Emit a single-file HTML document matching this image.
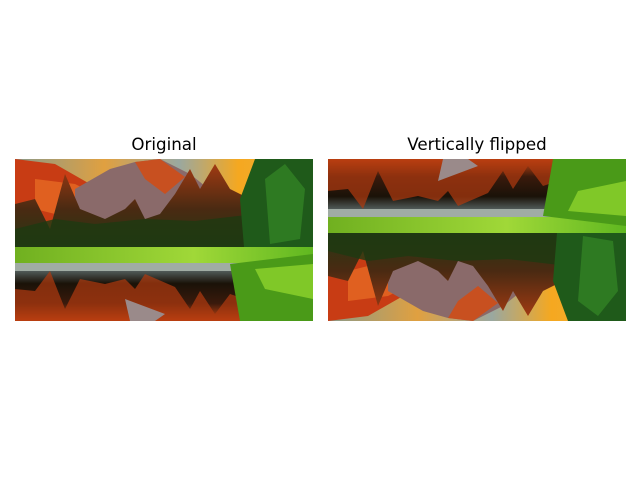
<!DOCTYPE html>
<html><head><meta charset="utf-8"><style>
html,body{margin:0;padding:0;background:#fff;}
body{width:640px;height:480px;position:relative;overflow:hidden;font-family:"DejaVu Sans","Liberation Sans",sans-serif;}
.title{position:absolute;top:134px;font-size:16.7px;color:#000;width:298px;text-align:center;}
svg{position:absolute;top:159px;}
</style></head><body>
<div class="title" style="left:15px">Original</div>
<div class="title" style="left:328px">Vertically flipped</div>
<svg width="640" height="162" style="left:0">
<defs>
<linearGradient id="sky" x1="0" x2="1" y1="0" y2="0">
<stop offset="0" stop-color="#8a9a8a"/><stop offset="0.3" stop-color="#e0a040"/><stop offset="0.55" stop-color="#9aa8a0"/><stop offset="0.75" stop-color="#f5a820"/><stop offset="1" stop-color="#f0b040"/></linearGradient>
<linearGradient id="refl" x1="0" x2="0" y1="0" y2="1">
<stop offset="0" stop-color="#505a58"/><stop offset="0.25" stop-color="#1a1208"/><stop offset="0.65" stop-color="#3a1a0c"/><stop offset="1" stop-color="#d04812"/></linearGradient>
<linearGradient id="trees" x1="0" x2="0" y1="0" y2="1">
<stop offset="0" stop-color="#a03a12"/><stop offset="0.5" stop-color="#4a2a12"/><stop offset="1" stop-color="#203a14"/></linearGradient>
<linearGradient id="grassg" x1="0" x2="1"><stop offset="0" stop-color="#70b020"/><stop offset="0.6" stop-color="#a0d838"/><stop offset="1" stop-color="#60b820"/></linearGradient>
<clipPath id="cp"><rect width="298" height="162"/></clipPath>
<g id="scene" clip-path="url(#cp)">
<rect width="298" height="162" fill="url(#sky)"/>
<polygon points="0,0 40,5 110,45 115,80 0,80" fill="#c83c14"/>
<polygon points="20,20 60,25 90,40 60,60 20,50" fill="#e06020"/>
<polygon points="60,30 95,10 120,3 145,0 175,15 200,35 200,80 60,80" fill="#8a6a6a"/>
<polygon points="120,3 145,0 170,18 150,35 130,20" fill="#c85020"/>
<polygon points="0,45 20,40 35,70 50,15 65,50 90,60 110,50 120,40 130,60 145,55 160,35 175,10 185,30 200,5 215,30 235,40 240,95 0,95" fill="url(#trees)"/>
<polygon points="0,70 40,60 80,65 130,60 180,62 240,55 240,95 0,95" fill="#1e3a12" opacity="0.8"/>
<polygon points="240,0 298,0 298,100 230,100 225,40" fill="#1f5a1a"/>
<polygon points="250,20 270,5 290,30 285,80 255,85" fill="#2e7a22"/>
<rect x="0" y="88" width="298" height="18" fill="url(#grassg)"/>
<rect x="0" y="104" width="230" height="10" fill="#a0aca4"/>
<rect x="0" y="112" width="230" height="50" fill="url(#refl)"/>
<polygon points="0,130 20,132 35,112 50,150 65,120 90,125 110,120 120,130 130,115 160,128 175,150 185,132 200,155 215,135 230,140 230,162 0,162" fill="#b03a10" opacity="0.7"/>
<polygon points="110,140 150,155 140,162 115,162" fill="#9a8a8a"/>
<polygon points="215,105 298,95 298,162 225,162" fill="#4a9a18"/>
<polygon points="240,110 298,105 298,140 250,130" fill="#80c828"/>
</g></defs>
<g transform="translate(15,0)"><use href="#scene"/></g>
<g transform="translate(328,162) scale(1,-1)"><use href="#scene"/></g>
</svg>
</body></html>
